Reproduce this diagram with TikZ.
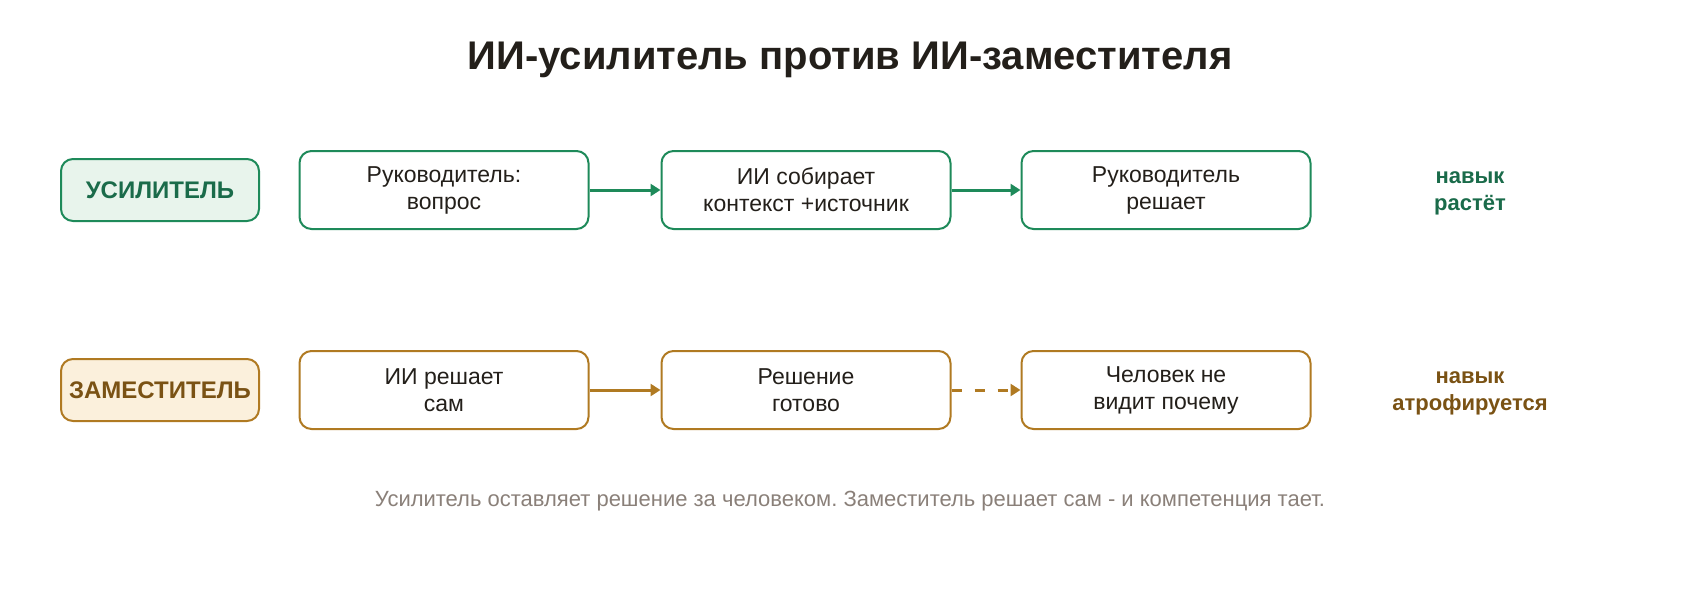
\documentclass[tikz,border=0pt]{standalone}
\usepackage{fontspec}
\setmainfont{Liberation Sans}
\frenchspacing
\usetikzlibrary{arrows.meta}
\definecolor{leafgreen}{HTML}{1E8A5A}
\definecolor{darkleaf}{HTML}{1A6B4A}
\definecolor{paleleaf}{HTML}{E8F4EC}
\definecolor{ochre}{HTML}{B07A22}
\definecolor{darkochre}{HTML}{7A5214}
\definecolor{paleochre}{HTML}{FBF0DC}
\definecolor{inkgrey}{HTML}{8A8079}
\definecolor{inkblack}{HTML}{231F1A}
\tikzset{
	% ------- every something
	every node/.style={
		font=\fontsize{11.5}{13.5}\selectfont,
		align=center,
	},
	% ------- custom
	role/.style={
		draw=#1, line width=1pt, rounded corners=6pt,
		minimum width=99pt, minimum height=31pt,
		font=\fontsize{12}{14}\selectfont\bfseries,
	},
	stage/.style={
		draw=#1, line width=1pt, rounded corners=6pt, fill=white,
		minimum width=144.5pt, minimum height=39pt,
		text=inkblack,
	},
	verdict/.style={
		font=\fontsize{11}{13.5}\selectfont\bfseries,
	},
	link/.style={
		line width=1.5pt, draw=#1,
		-{Triangle[length=5pt,width=6pt]},
	},
	weak link/.style={
		link=#1,
		dash pattern=on 5pt off 6.5pt,
	},
}
\begin{document}
\begin{tikzpicture}[x=0.5pt,y=-0.5pt]

% canvas %{{{1

	\useasboundingbox (0,0) rectangle (1700,600);

% coordinates %{{{1

	\coordinate (title) at (850,60);
	\coordinate (roleA) at (160,190);
	\coordinate (roleB) at (160,390);
	\coordinate (A1) at (444,190);
	\coordinate (A2) at (806,190);
	\coordinate (A3) at (1166,190);
	\coordinate (B1) at (444,390);
	\coordinate (B2) at (806,390);
	\coordinate (B3) at (1166,390);
	\coordinate (verdictA) at (1470,193);
	\coordinate (verdictB) at (1470,393);
	\coordinate (footer) at (850,501);

% title %{{{1

	\node[font=\fontsize{20}{24}\selectfont\bfseries, text=inkblack] (heading) at (title)
	{ИИ-усилитель против ИИ-заместителя};

% amplifier row %{{{1

	\node[role=leafgreen, fill=paleleaf, text=darkleaf] (ampl) at (roleA) {УСИЛИТЕЛЬ};
	\node[stage=leafgreen] (ask) at (A1) {Руководитель:\\вопрос};
	\node[stage=leafgreen] (gather) at (A2) {ИИ собирает\\контекст +источник};
	\node[stage=leafgreen] (decide) at (A3) {Руководитель\\решает};
	\node[verdict, text=darkleaf] (grow) at (verdictA) {навык\\растёт};

	\draw[link=leafgreen] (ask) -- (gather);
	\draw[link=leafgreen] (gather) -- (decide);

% substitute row %{{{1

	\node[role=ochre, fill=paleochre, text=darkochre] (subst) at (roleB) {ЗАМЕСТИТЕЛЬ};
	\node[stage=ochre] (solve) at (B1) {ИИ решает\\сам};
	\node[stage=ochre] (ready) at (B2) {Решение\\готово};
	\node[stage=ochre] (blind) at (B3) {Человек не\\видит почему};
	\node[verdict, text=darkochre] (fade) at (verdictB) {навык\\атрофируется};

	\draw[link=ochre] (solve) -- (ready);
	\draw[weak link=ochre] (ready) -- (blind);

% closing %{{{1

	\node[font=\fontsize{11}{13}\selectfont, text=inkgrey] (moral) at (footer)
	{Усилитель оставляет решение за человеком. Заместитель решает сам - и компетенция тает.};

\end{tikzpicture}
\end{document}
